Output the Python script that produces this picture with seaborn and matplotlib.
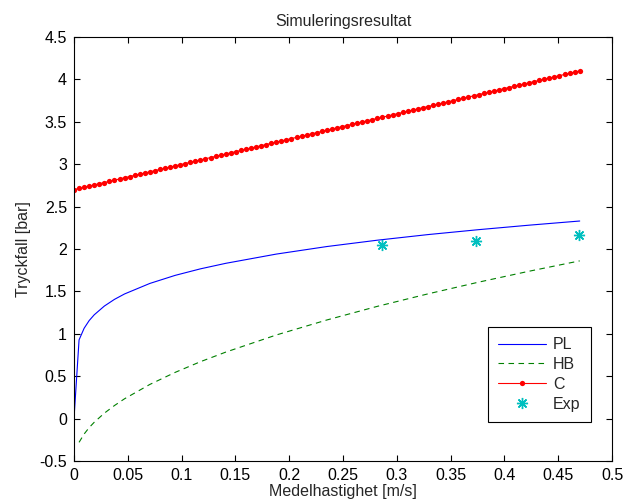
#-------------------------------------
# Simuleringsresultat: tryckfall mot
# medelhastighet for PL, HB, C och Exp
#-------------------------------------

import numpy as np
import matplotlib
matplotlib.use("Agg")
import matplotlib.pyplot as plt
import seaborn as sns

sns.set_style("ticks")
plt.rcParams['font.family'] = ['Liberation Sans', 'DejaVu Sans']

# Data

# Velocity grid for the C model (dots)
v_c = [0.0000, 0.0047, 0.0094, 0.0141, 0.0188, 0.0235, 0.0282, 0.0329, 0.0376, 0.0423,
       0.0470, 0.0517, 0.0564, 0.0611, 0.0658, 0.0705, 0.0752, 0.0799, 0.0846, 0.0893,
       0.0940, 0.0987, 0.1034, 0.1081, 0.1128, 0.1175, 0.1222, 0.1269, 0.1316, 0.1363,
       0.1410, 0.1457, 0.1504, 0.1551, 0.1598, 0.1645, 0.1692, 0.1739, 0.1786, 0.1833,
       0.1880, 0.1927, 0.1974, 0.2021, 0.2068, 0.2115, 0.2162, 0.2209, 0.2256, 0.2303,
       0.2350, 0.2397, 0.2444, 0.2491, 0.2538, 0.2585, 0.2632, 0.2679, 0.2726, 0.2773,
       0.2820, 0.2867, 0.2914, 0.2961, 0.3008, 0.3055, 0.3102, 0.3149, 0.3196, 0.3243,
       0.3290, 0.3337, 0.3384, 0.3431, 0.3478, 0.3525, 0.3572, 0.3619, 0.3666, 0.3713,
       0.3760, 0.3807, 0.3854, 0.3901, 0.3948, 0.3995, 0.4042, 0.4089, 0.4136, 0.4183,
       0.4230, 0.4277, 0.4324, 0.4371, 0.4418, 0.4465, 0.4512, 0.4559, 0.4606, 0.4653,
       0.4700]
dp_c = [2.700, 2.714, 2.728, 2.742, 2.756, 2.770, 2.784, 2.798, 2.812, 2.826,
        2.840, 2.854, 2.868, 2.882, 2.896, 2.910, 2.924, 2.938, 2.952, 2.966,
        2.980, 2.994, 3.008, 3.022, 3.036, 3.050, 3.064, 3.078, 3.092, 3.106,
        3.120, 3.134, 3.148, 3.162, 3.176, 3.190, 3.204, 3.218, 3.232, 3.246,
        3.260, 3.274, 3.288, 3.302, 3.316, 3.330, 3.344, 3.358, 3.372, 3.386,
        3.400, 3.414, 3.428, 3.442, 3.456, 3.470, 3.484, 3.498, 3.512, 3.526,
        3.540, 3.554, 3.568, 3.582, 3.596, 3.610, 3.624, 3.638, 3.652, 3.666,
        3.680, 3.694, 3.708, 3.722, 3.736, 3.750, 3.764, 3.778, 3.792, 3.806,
        3.820, 3.834, 3.848, 3.862, 3.876, 3.890, 3.904, 3.918, 3.932, 3.946,
        3.960, 3.974, 3.988, 4.002, 4.016, 4.030, 4.044, 4.058, 4.072, 4.086,
        4.100]

# PL and HB curves
v_pl = [0.0, 0.0047, 0.0094, 0.0141, 0.0188, 0.0282, 0.0376, 0.047, 0.0705, 0.094,
        0.1175, 0.141, 0.188, 0.235, 0.282, 0.329, 0.376, 0.423, 0.47]
dp_pl = [0.0, 0.928, 1.065, 1.156, 1.224, 1.327, 1.406, 1.470, 1.594, 1.689,
         1.766, 1.831, 1.940, 2.029, 2.104, 2.170, 2.228, 2.281, 2.330]

v_hb = [0.0047, 0.0094, 0.0141, 0.0188, 0.0282, 0.0376, 0.047, 0.0705, 0.094,
        0.1175, 0.141, 0.188, 0.235, 0.282, 0.329, 0.376, 0.423, 0.47]
dp_hb = [-0.280, -0.182, -0.106, -0.043, 0.064, 0.154, 0.234, 0.403, 0.545,
         0.671, 0.784, 0.986, 1.163, 1.324, 1.471, 1.609, 1.738, 1.860]

# Experiments
v_exp = [0.286, 0.374, 0.469]
dp_exp = [2.05, 2.10, 2.16]

xticks = [0, 0.05, 0.1, 0.15, 0.2, 0.25, 0.3, 0.35, 0.4, 0.45, 0.5]
xticklabels = ['0', '0.05', '0.1', '0.15', '0.2', '0.25', '0.3', '0.35', '0.4', '0.45', '0.5']
yticks = [-0.5, 0, 0.5, 1, 1.5, 2, 2.5, 3, 3.5, 4, 4.5]
yticklabels = ['-0.5', '0', '0.5', '1', '1.5', '2', '2.5', '3', '3.5', '4', '4.5']

fs = 11.5

#%%

# Make plot

fig = plt.figure(figsize=(6.23, 5.03), dpi=100)
ax = fig.add_axes([74 / 623, 42 / 503, 538 / 623, 424 / 503])

sns.lineplot(x=v_pl, y=dp_pl, color=(0, 0, 1), lw=0.8, label='PL', ax=ax)
sns.lineplot(x=v_hb, y=dp_hb, color=(0, 0.5, 0), lw=0.8, ls=(0, (5, 4)), label='HB', ax=ax)
sns.lineplot(x=v_c, y=dp_c, color=(1, 0, 0), lw=0.8, marker='o', markersize=3.8,
             markeredgewidth=0, label='C', ax=ax)
sns.lineplot(x=v_exp, y=dp_exp, color=(0, 0.75, 0.75), ls='none', marker=(8, 2, 0),
             markersize=8, markeredgewidth=1.0, markeredgecolor=(0, 0.75, 0.75),
             label='Exp', ax=ax)

ax.set_xlim(0, 0.5)
ax.set_ylim(-0.5, 4.5)
ax.set_xticks(xticks)
ax.set_xticklabels(xticklabels)
ax.set_yticks(yticks)
ax.set_yticklabels(yticklabels)
ax.tick_params(direction='in', length=4, width=0.8, top=True, right=True,
               labelsize=fs, colors='black', pad=5)
for s in ax.spines.values():
    s.set_visible(True)
    s.set_linewidth(0.8)
    s.set_color('black')

ax.set_title('Simuleringsresultat', fontsize=fs, pad=8)
ax.set_xlabel('Medelhastighet [m/s]', fontsize=fs, labelpad=1)
ax.set_ylabel('Tryckfall [bar]', fontsize=fs, labelpad=6)

leg = ax.legend(loc='lower right', bbox_to_anchor=(517 / 538, 39 / 424), borderaxespad=0,
                fancybox=False, shadow=False, framealpha=1, edgecolor='black',
                fontsize=fs, handlelength=3.0, handletextpad=0.45, labelspacing=0.3,
                borderpad=0.65)
leg.get_frame().set_linewidth(0.8)

plt.savefig('out.png', dpi=100)
